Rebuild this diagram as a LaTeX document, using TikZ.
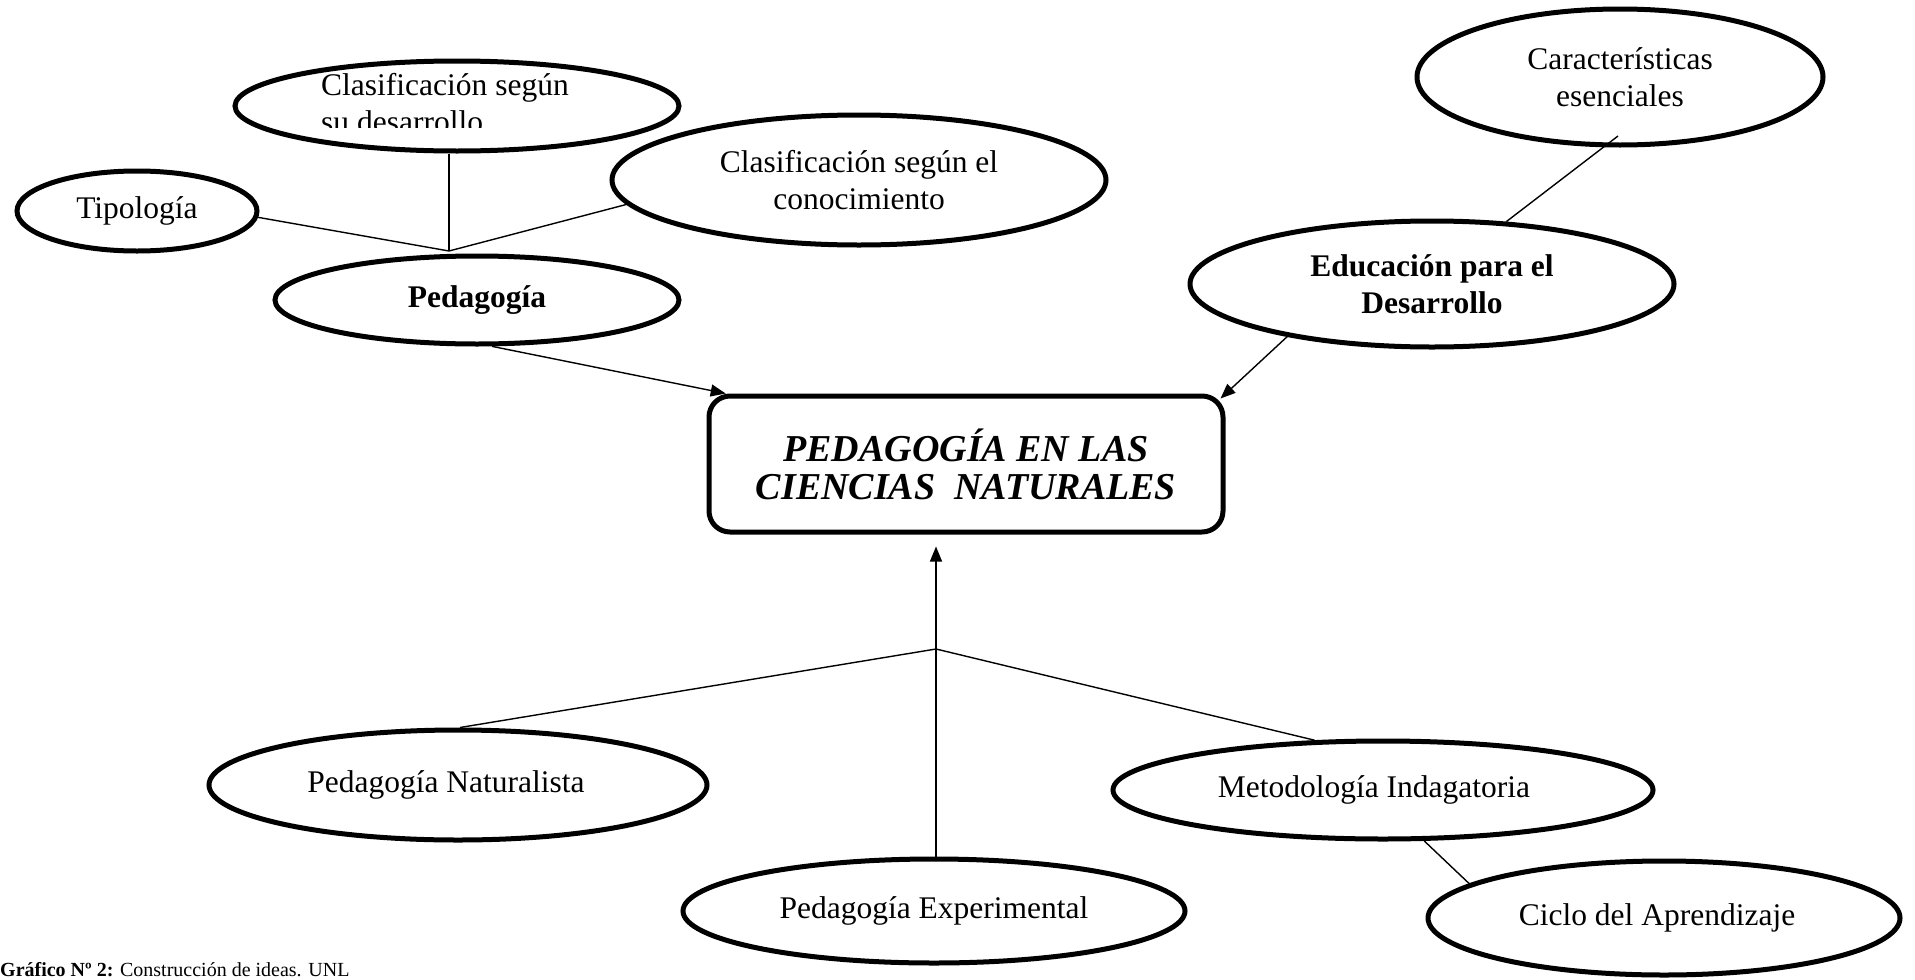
\documentclass[tikz,border=0pt]{standalone}
\usepackage{fontspec}
\setmainfont{Liberation Serif}
\usetikzlibrary{shapes.geometric,arrows.meta,calc}
\begin{document}
\begin{tikzpicture}[x=1pt,y=-1pt,
  oval/.style={draw,ellipse,line width=5pt,inner sep=0pt,align=center,font=\fontsize{31.5}{37}\selectfont},
  plain/.style={inner sep=0pt,font=\fontsize{31.5}{37}\selectfont},
  conn/.style={line width=1.4pt},
  arr/.style={line width=1.4pt,-{Triangle[length=15pt,width=12pt]}},
  mainbox/.style={draw,rounded corners=21pt,line width=5pt,align=center,
    font=\fontsize{38}{38}\selectfont\bfseries\itshape},
]
\useasboundingbox (0,0) rectangle (1915,980);
% top left group
\node[oval,minimum width=444,minimum height=90] (clasD) at (457,106) {};
\begin{scope}
  \clip (235,58) rectangle (680,127);
  \node[plain,anchor=base west] (cd1) at (321,95) {Clasificación según};
  \node[plain,anchor=base west] (cd2) at (321,132) {su desarrollo};
\end{scope}
\node[oval,minimum width=240,minimum height=80] (tipo) at (137,211) {Tipología};
\node[oval,minimum width=494,minimum height=130] (conoc) at (859,180) {Clasificación según el\\conocimiento};
\node[oval,minimum width=404,minimum height=88] (ped) at (477,300) {\bfseries Pedagogía};
\coordinate (J1) at (449,251);
\draw[conn] (tipo.-3) -- (J1);
\draw[conn] (J1 |- clasD.south) -- (J1);
\draw[conn] (conoc.186) -- (J1);
% top right group
\node[oval,minimum width=406,minimum height=136] (carac) at (1620,77) {Características\\esenciales};
\node[oval,minimum width=484,minimum height=126] (edu) at (1432,284) {\bfseries Educación para el\\\bfseries Desarrollo};
\coordinate (cA) at ($(carac.center)+(-2,59)$);
\draw[conn] (cA) -- (edu.40);
% main box
\node[mainbox,minimum width=514,minimum height=136] (box) at (966,464) {PEDAGOGÍA EN LAS\\CIENCIAS\ \ NATURALES};
\draw[arr] (ped.-72) -- ($(box.north west)!0.037!(box.north east)$);
\draw[arr] (edu.200) -- ($(box.north east)+(-5,5)$);
% bottom group
\node[oval,minimum width=498,minimum height=110] (nat) at (458,785) {Pedagogía Naturalista\hspace*{24pt}};
\node[oval,minimum width=502,minimum height=104] (exp) at (934,911) {Pedagogía Experimental};
\node[oval,minimum width=540,minimum height=98] (met) at (1383,790) {Metodología Indagatoria\hspace*{18pt}};
\node[oval,minimum width=472,minimum height=114] (cic) at (1664,918) {Ciclo del Aprendizaje\hspace*{14pt}};
\coordinate (J2) at (936,649);
\draw[arr] (J2 |- exp.north) -- ($(J2 |- box.south)+(0,12)$);
\draw[conn] (J2) -- (nat.88);
\draw[conn] (J2) -- (met.144);
\draw[conn] (met.-51) -- (cic.170);
% caption at the lower edge
\node[inner sep=0pt,anchor=base west,font=\fontsize{20}{24}\selectfont] (cap) at (0,976) {\textbf{Gráfico Nº 2:} Construcción de ideas. UNL};
\end{tikzpicture}
\end{document}
